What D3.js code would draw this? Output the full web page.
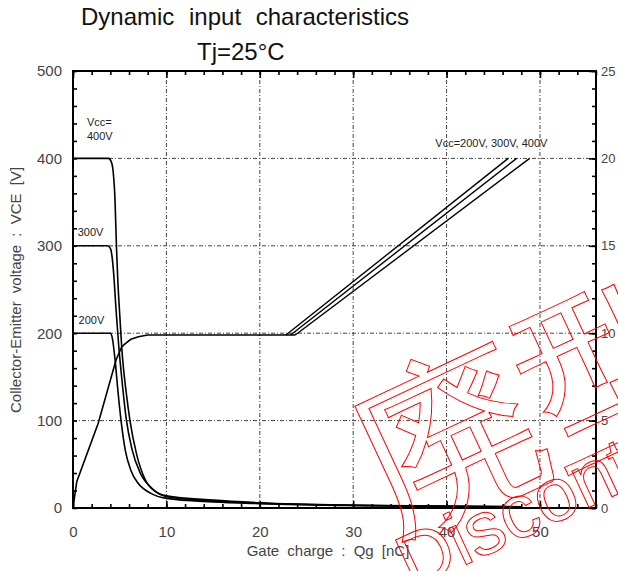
<!DOCTYPE html>
<html>
<head>
<meta charset="utf-8">
<script src="https://cdn.jsdelivr.net/npm/d3@7"></script>
<style>
  body { margin: 0; background: #fff; }
  svg { display: block; }
  text { font-family: "Liberation Sans", Arial, sans-serif; }
</style>
</head>
<body>
<svg id="chart" width="618" height="571"></svg>
<script>
// ---- data ----
const qgTicks = [0, 10, 20, 30, 40, 50]
const vceTicks = [0, 100, 200, 300, 400, 500]
const vgeTicks = [0, 5, 10, 15, 20, 25]

// VCE [V] vs Qg [nC], left axis
const vce200 = [[0,200],[4.0,200],[4.2,195],[4.5,170],[4.8,135],[5.2,95],[5.6,66],[6.2,43],[7,28],[8.3,17],[10,11],[15,7],[20,5],[30,2.8],[40,1.8],[48,1]]
const vce300 = [[0,300],[3.7,300],[4.0,297],[4.2,286],[4.4,262],[4.6,228],[4.9,185],[5.3,140],[5.7,102],[6.3,68],[7.2,40],[8.5,22],[10,13],[15,8],[20,5.5],[30,3],[40,2],[48,1.2]]
const vce400 = [[0,400],[3.8,400],[4.1,396],[4.3,385],[4.5,352],[4.65,300],[4.8,260],[5.0,222],[5.3,172],[5.7,132],[6.1,100],[6.8,62],[7.7,33],[8.8,19],[10,14],[15,9],[20,6],[30,3.2],[40,2.2],[48,1.5]]

// VGE [V] vs Qg [nC], right axis
const vgeRise = [[0,0],[0.4,1.5],[2.7,4.85],[4.6,8.45],[5.2,9.2],[5.6,9.4],[6.2,9.65],[7,9.8],[8,9.9]]
const vge200 = [[22.8,9.9],[46.6,20]]
const vge300 = [[23.3,9.9],[47.5,20]]
const vge400 = [[23.8,9.9],[48.9,20]]

const curveLabels = [
  {q: 1.5, v: 437, t: 'Vcc='},
  {q: 1.5, v: 421, t: '400V'},
  {q: 0.5, v: 311, t: '300V'},
  {q: 0.6, v: 210, t: '200V'},
  {q: 38.8, v: 413, t: 'Vcc=200V, 300V, 400V'}
]

// ---- layout ----
const svg = d3.select('#chart')
const L = 73, R = 596, T = 71, B = 508

const x = d3.scaleLinear().domain([0, 56]).range([L, R])
const y = d3.scaleLinear().domain([0, 500]).range([B, T])
const y2 = d3.scaleLinear().domain([0, 25]).range([B, T])

// titles
svg.append('text').attr('x', 81).attr('y', 25)
  .attr('font-size', 24).attr('word-spacing', 8).attr('fill', '#111')
  .text('Dynamic input characteristics')
svg.append('text').attr('x', 197).attr('y', 60)
  .attr('font-size', 24).attr('fill', '#111')
  .text('Tj=25\u00B0C')

// grid
const grid = svg.append('g').attr('stroke', '#444').attr('stroke-width', 1)
  .attr('stroke-dasharray', '4,2,1,2')
grid.selectAll('.gx').data(qgTicks.slice(1)).join('line')
  .attr('x1', d => x(d)).attr('x2', d => x(d)).attr('y1', T).attr('y2', B)
grid.selectAll('.gy').data(vceTicks.slice(1, -1)).join('line')
  .attr('x1', L).attr('x2', R).attr('y1', d => y(d)).attr('y2', d => y(d))

// axes: minor ticks inside, labels outside
function styleAxis(g) {
  g.select('.domain').remove()
  g.selectAll('.tick line').attr('stroke', '#000').attr('stroke-width', 1.6)
  g.selectAll('.tick text').attr('fill', '#444').attr('font-size', 15)
    .attr('font-family', '"Liberation Sans", Arial, sans-serif')
}
svg.append('g').attr('transform', `translate(${L},0)`)
  .call(d3.axisLeft(y).tickValues(d3.range(0, 501, 20)).tickSize(-4).tickFormat(''))
  .call(styleAxis)
svg.append('g').attr('transform', `translate(${L},0)`)
  .call(d3.axisLeft(y).tickValues(vceTicks).tickSize(0).tickPadding(11))
  .call(styleAxis)

svg.append('g').attr('transform', `translate(0,${B})`)
  .call(d3.axisBottom(x).tickValues(d3.range(0, 57, 2)).tickSize(-4).tickFormat(''))
  .call(styleAxis)
svg.append('g').attr('transform', `translate(0,${B})`)
  .call(d3.axisBottom(x).tickValues(qgTicks).tickSize(-7).tickPadding(18).tickFormat(d3.format('d')))
  .call(styleAxis)
svg.append('g').attr('transform', `translate(0,${T})`)
  .call(d3.axisTop(x).tickValues(d3.range(0, 57, 2)).tickSize(-4).tickFormat(''))
  .call(styleAxis)
svg.append('g').attr('transform', `translate(0,${T})`)
  .call(d3.axisTop(x).tickValues(qgTicks).tickSize(-7).tickFormat(''))
  .call(styleAxis)

svg.append('g').attr('transform', `translate(${R},0)`)
  .call(d3.axisRight(y2).tickValues(d3.range(0, 26, 1)).tickSize(-4).tickFormat(''))
  .call(styleAxis)
svg.append('g').attr('transform', `translate(${R},0)`)
  .call(d3.axisRight(y2).tickValues(vgeTicks).tickSize(-7).tickPadding(5))
  .call(styleAxis)
  .call(g => g.selectAll('.tick text').attr('font-size', 13))

// frame
svg.append('rect').attr('x', L).attr('y', T).attr('width', R - L).attr('height', B - T)
  .attr('fill', 'none').attr('stroke', '#000').attr('stroke-width', 2)

// axis titles
svg.append('text').attr('transform', 'translate(21,290) rotate(-90)')
  .attr('text-anchor', 'middle').attr('font-size', 15).attr('fill', '#444')
  .attr('word-spacing', 4)
  .text('Collector-Emitter voltage : VCE [V]')
svg.append('text').attr('x', 328).attr('y', 556)
  .attr('text-anchor', 'middle').attr('font-size', 15).attr('fill', '#444')
  .attr('word-spacing', 4)
  .text('Gate charge : Qg [nC]')

// curves
const lineL = d3.line().x(d => x(d[0])).y(d => y(d[1])).curve(d3.curveMonotoneX)
const lineR = d3.line().x(d => x(d[0])).y(d => y2(d[1]))
const curves = svg.append('g').attr('fill', 'none').attr('stroke', '#000').attr('stroke-width', 1.6)
;[vce200, vce300, vce400].forEach(s => curves.append('path').attr('d', lineL(s)))
curves.append('path').attr('d', lineR(vgeRise.concat([vge400[0]])))
;[vge200, vge300, vge400].forEach(s => curves.append('path').attr('d', lineR(s)).attr('stroke-width', 1.4))

// curve labels
svg.append('g').selectAll('text').data(curveLabels).join('text')
  .attr('x', d => x(d.q)).attr('y', d => y(d.v))
  .attr('font-size', 11).attr('fill', '#222')
  .text(d => d.t)

// watermark
const wm = svg.append('g').attr('fill', 'none').attr('stroke', '#f00').attr('stroke-width', 1)
wm.append('text').attr('transform', 'translate(528,397) rotate(-25)')
  .attr('x', 0).attr('y', 68).attr('text-anchor', 'middle')
  .attr('font-family', '"Noto Sans CJK JP", sans-serif').attr('font-size', 180)
  .text('廃型')
wm.append('text').attr('transform', 'translate(412,590) rotate(-25)')
  .attr('font-size', 76)
  .text('Discontinued')
</script>
</body>
</html>
